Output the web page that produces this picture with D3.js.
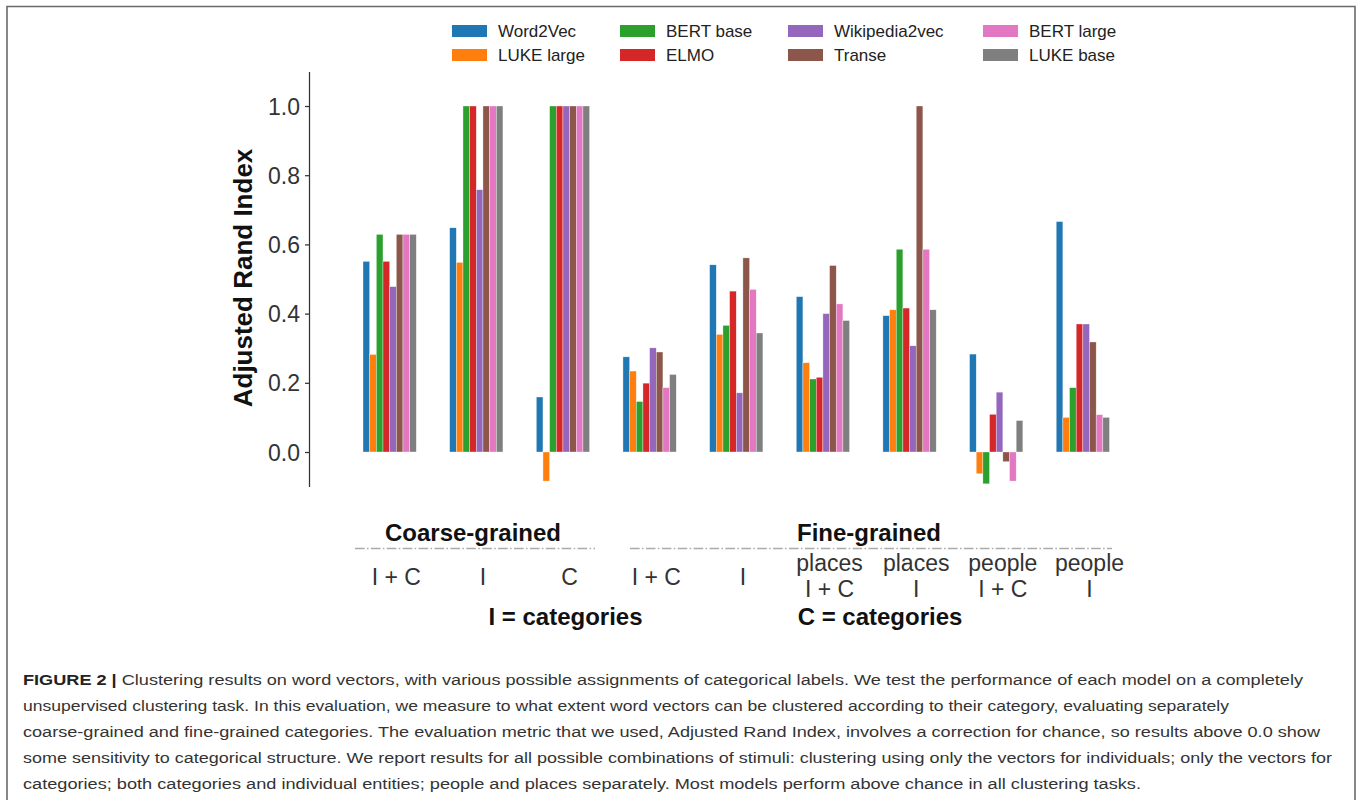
<!DOCTYPE html>
<html><head><meta charset="utf-8">
<script src="https://cdn.jsdelivr.net/npm/d3@7/dist/d3.min.js"></script>
<style>body{margin:0;background:#fff} svg{display:block}</style>
</head><body>
<svg id="chart" width="1357" height="800"></svg>
<script>
// ---------- data ----------
const groups = ["coarse I+C","coarse I","coarse C","fine I+C","fine I","places I+C","places I","people I+C","people I"];
const tickLabels = [["I + C"],["I"],["C"],["I + C"],["I"],["places","I + C"],["places","I"],["people","I + C"],["people","I"]];
const models = ["Word2Vec","LUKE large","BERT base","ELMO","Wikipedia2vec","Transe","BERT large","LUKE base"];
const modelColors = ["#1f77b4","#ff7f0e","#2ca02c","#d62728","#9467bd","#8c564b","#e377c2","#7f7f7f"];
const word2vec  = [0.551, 0.648, 0.159, 0.275, 0.541, 0.449, 0.394, 0.283, 0.666];
const lukeLarge = [0.282, 0.548,-0.084, 0.234, 0.340, 0.258, 0.411,-0.063, 0.100];
const bertBase  = [0.629, 1.000, 1.000, 0.146, 0.366, 0.211, 0.586,-0.092, 0.186];
const elmo      = [0.551, 1.000, 1.000, 0.199, 0.465, 0.216, 0.416, 0.109, 0.370];
const wiki2vec  = [0.478, 0.758, 1.000, 0.301, 0.171, 0.400, 0.307, 0.173, 0.370];
const transe    = [0.629, 1.000, 1.000, 0.289, 0.561, 0.539, 1.000,-0.028, 0.318];
const bertLarge = [0.629, 1.000, 1.000, 0.186, 0.470, 0.428, 0.586,-0.084, 0.108];
const lukeBase  = [0.629, 1.000, 1.000, 0.224, 0.344, 0.380, 0.411, 0.091, 0.100];
const yTicks = [0.0, 0.2, 0.4, 0.6, 0.8, 1.0];
const yLabel = "Adjusted Rand Index";
const sectionTitles = ["Coarse-grained", "Fine-grained"];
const sectionNotes = ["I = categories", "C = categories"];
const captionBold = "FIGURE 2 |";
const captionLines = [
  " Clustering results on word vectors, with various possible assignments of categorical labels. We test the performance of each model on a completely",
  "unsupervised clustering task. In this evaluation, we measure to what extent word vectors can be clustered according to their category, evaluating separately",
  "coarse-grained and fine-grained categories. The evaluation metric that we used, Adjusted Rand Index, involves a correction for chance, so results above 0.0 show",
  "some sensitivity to categorical structure. We report results for all possible combinations of stimuli: clustering using only the vectors for individuals; only the vectors for",
  "categories; both categories and individual entities; people and places separately. Most models perform above chance in all clustering tasks."
];
const seriesValues = [word2vec, lukeLarge, bertBase, elmo, wiki2vec, transe, bertLarge, lukeBase];

// ---------- drawing ----------
const svg = d3.select("#chart");
const font = "'Liberation Sans', Arial, Helvetica, sans-serif";
svg.attr("font-family", font);

// frame
svg.append("path").attr("d", "M7,812 L7,6.5 L1355,6.5 L1355,812")
  .attr("fill", "none").attr("stroke", "#6a6a6a").attr("stroke-width", 1.6);

const x = d3.scaleBand().domain(groups).range([363, 1109.5]).paddingInner(0.385).paddingOuter(0);
const xs = d3.scaleBand().domain(models).range([0, x.bandwidth()]).padding(0);
const y = d3.scaleLinear().domain([-0.1, 1.1]).range([486.6, 71.4]);
const color = d3.scaleOrdinal().domain(models).range(modelColors);

// bars
const barData = [];
groups.forEach((g, gi) => models.forEach((m, mi) => barData.push({g, m, v: seriesValues[mi][gi]})));
svg.append("g").selectAll("rect").data(barData).join("rect")
  .attr("x", d => x(d.g) + xs(d.m))
  .attr("width", xs.bandwidth())
  .attr("y", d => y(Math.max(0, d.v)))
  .attr("height", d => Math.abs(y(d.v) - y(0)))
  .attr("fill", d => color(d.m))
  .attr("stroke", "#fff").attr("stroke-width", 0.5).attr("stroke-opacity", 0.7);

// y axis
const yAxis = svg.append("g").attr("transform", "translate(309,0)")
  .call(d3.axisLeft(y).tickValues(yTicks).tickFormat(d3.format(".1f")).tickSize(4).tickPadding(5).tickSizeOuter(0));
yAxis.select(".domain").attr("stroke", "#333").attr("stroke-width", 1.25);
yAxis.selectAll(".tick line").attr("stroke", "#333").attr("stroke-width", 1.25);
yAxis.selectAll(".tick text").attr("font-size", 23).attr("fill", "#333").attr("font-family", font).attr("dy", "0.35em");

svg.append("text").attr("transform", "translate(252,278) rotate(-90)")
  .attr("text-anchor", "middle").attr("font-size", 26).attr("font-weight", "bold").attr("fill", "#111")
  .text(yLabel);

// x tick labels
const tickX = g => x(g) + x.bandwidth() / 2 + xs.bandwidth() * 1.0;
const tl = svg.append("g").attr("font-size", 23).attr("fill", "#333").attr("text-anchor", "middle");
groups.forEach((g, i) => {
  const lines = tickLabels[i];
  if (lines.length === 1) {
    tl.append("text").attr("x", tickX(g)).attr("y", 585).text(lines[0]);
  } else {
    lines.forEach((t, j) => tl.append("text").attr("x", tickX(g)).attr("y", 570.5 + j * 26).text(t));
  }
});

// section annotations
const secLines = [[355, 595], [630, 1112]];
const titleX = [473, 869];
const noteX = [565.5, 880];
secLines.forEach((s, i) => {
  svg.append("line").attr("x1", s[0]).attr("x2", s[1]).attr("y1", 548.5).attr("y2", 548.5)
    .attr("stroke", "#aaaaaa").attr("stroke-width", 1.5).attr("stroke-dasharray", "9.6,2.4,1.5,2.4");
  svg.append("text").attr("x", titleX[i]).attr("y", 541).attr("text-anchor", "middle")
    .attr("font-size", 24).attr("font-weight", "bold").attr("fill", "#111").text(sectionTitles[i]);
  svg.append("text").attr("x", noteX[i]).attr("y", 625).attr("text-anchor", "middle")
    .attr("font-size", 24).attr("font-weight", "bold").attr("fill", "#111").text(sectionNotes[i]);
});

// legend (4 columns x 2 rows, column-major)
const legX = [452, 620, 788, 983];
const legY = [31, 55];
const leg = svg.append("g");
models.forEach((m, i) => {
  const col = Math.floor(i / 2), row = i % 2;
  leg.append("rect").attr("x", legX[col]).attr("y", legY[row] - 6).attr("width", 35).attr("height", 12)
    .attr("fill", color(m));
  leg.append("text").attr("x", legX[col] + 46).attr("y", legY[row]).attr("dy", "0.35em")
    .attr("font-size", 17).attr("fill", "#222").text(m);
});

// caption
const capBase = 685, capStep = 25.9;
const capEnds = [1303, 1229, 1320, 1332, 1141];
captionLines.forEach((t, i) => {
  const tx = svg.append("text").attr("x", 23).attr("y", capBase + i * capStep)
    .attr("font-size", 15.5).attr("fill", "#333")
    .attr("textLength", capEnds[i] - 23).attr("lengthAdjust", "spacingAndGlyphs");
  if (i === 0) tx.append("tspan").attr("font-weight", "bold").attr("fill", "#222").text(captionBold);
  tx.append("tspan").text(t);
});
</script>
</body></html>
